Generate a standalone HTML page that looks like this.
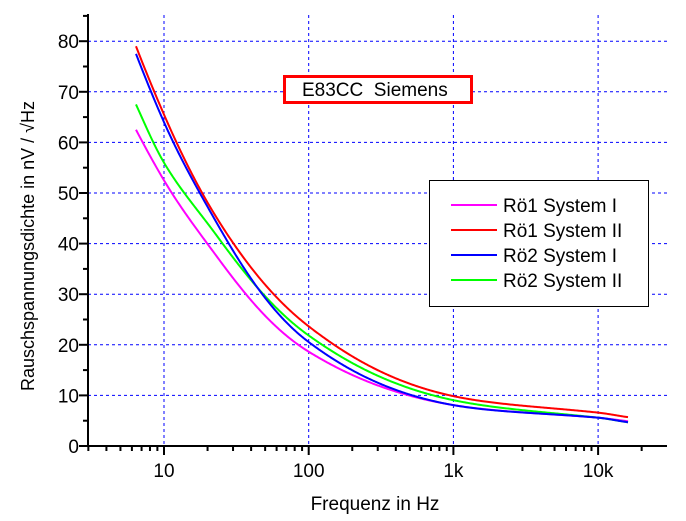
<!DOCTYPE html>
<html><head><meta charset="utf-8"><style>
html,body{margin:0;padding:0;background:#fff;}
svg{display:block;font-family:"Liberation Sans",Arial,sans-serif;}
</style></head><body>
<svg id="s" width="686" height="521" viewBox="0 0 686 521" xmlns="http://www.w3.org/2000/svg">
<g id="grid" stroke="#0000ff" stroke-width="1" stroke-dasharray="3,3" fill="none"></g>
<g id="axes" stroke="#000" stroke-width="2" fill="none"></g>
<g id="curves" fill="none" stroke-width="2"></g>
<g id="labels" font-size="19" fill="#000"></g>
<text x="375" y="510" font-size="19" text-anchor="middle">Frequenz in Hz</text>
<text transform="translate(34,246) rotate(-90)" font-size="18" text-anchor="middle">Rauschspannungsdichte in nV / √Hz</text>
<rect x="284.5" y="76.5" width="187" height="26" fill="#fff" stroke="#ff0000" stroke-width="3"/>
<text x="302" y="96" font-size="19" xml:space="preserve" style="white-space:pre">E83CC  Siemens</text>
<rect x="429.5" y="180.5" width="219" height="126" fill="#fff" stroke="#000" stroke-width="1"/>
<g stroke-width="2">
<line x1="451" y1="205" x2="497" y2="205" stroke="#ff00ff"/>
<line x1="451" y1="230" x2="497" y2="230" stroke="#ff0000"/>
<line x1="451" y1="255" x2="497" y2="255" stroke="#0000ff"/>
<line x1="451" y1="280" x2="497" y2="280" stroke="#00ff00"/>
</g>
<g font-size="19">
<text x="503" y="212">Rö1 System I</text>
<text x="503" y="237">Rö1 System II</text>
<text x="503" y="262">Rö2 System I</text>
<text x="503" y="287">Rö2 System II</text>
</g>
</svg>
<script>
var NS="http://www.w3.org/2000/svg";
function el(p,t,a){var e=document.createElementNS(NS,t);for(var k in a)e.setAttribute(k,a[k]);document.getElementById(p).appendChild(e);return e;}
var x0=164,dec=144.7,X0=88,Y0=446,ys=5.06;
function fx(f){return x0+(Math.log10(f)-1)*dec;}
function vy(v){return Y0-v*ys;}
for(var v=10;v<=80;v+=10){el("grid","line",{x1:X0,y1:vy(v),x2:667,y2:vy(v)});}
[10,100,1000,10000].forEach(function(f){el("grid","line",{x1:fx(f),y1:15,x2:fx(f),y2:Y0});});
el("axes","line",{x1:X0,y1:14,x2:X0,y2:Y0+1});
el("axes","line",{x1:X0-1,y1:Y0,x2:667,y2:Y0});
for(var v=0;v<=85;v+=5){var L=(v%10==0)?9:5;el("axes","line",{x1:X0-L,y1:vy(v),x2:X0,y2:vy(v)});}
for(var d=0;d<=4;d++){for(var m=1;m<10;m++){var f=m*Math.pow(10,d);if(f<3||f>30000)continue;var x=fx(f);if(x<X0||x>667)continue;var L=(m==1)?9:5;el("axes","line",{x1:x,y1:Y0,x2:x,y2:Y0+L});}}
for(var v=0;v<=80;v+=10){var t=el("labels","text",{x:79,y:vy(v)+7,"text-anchor":"end"});t.textContent=v;}
[[10,"10"],[100,"100"],[1000,"1k"],[10000,"10k"]].forEach(function(a){var t=el("labels","text",{x:fx(a[0]),y:477,"text-anchor":"middle"});t.textContent=a[1];});
var xs=[136,164,217,309,450,598,628];
var data=[
["#ff00ff",[62.5,52.5,37.4,18.6,8.2,5.6,4.9]],
["#00ff00",[67.5,56,41.5,21.8,9.2,5.6,4.7]],
["#0000ff",[77.5,64,44,20.5,8.2,5.6,4.7]],
["#ff0000",[79,65.5,45,23.6,10,6.6,5.7]]];
function cr(p0,p1,p2,p3,t,t0,t1,t2,t3){
 // non-uniform Catmull-Rom via tangents
 var m1=(p2-p0)/(t2-t0)*(t2-t1), m2=(p3-p1)/(t3-t1)*(t2-t1);
 var h=t,h2=h*h,h3=h2*h;
 return (2*h3-3*h2+1)*p1+(h3-2*h2+h)*m1+(-2*h3+3*h2)*p2+(h3-h2)*m2;
}
data.forEach(function(s){
 var lv=s[1].map(Math.log), n=xs.length, pts=[];
 for(var i=0;i<n-1;i++){
  var i0=Math.max(0,i-1),i3=Math.min(n-1,i+2);
  for(var x=xs[i];x<xs[i+1];x+=1){
   var t=(x-xs[i])/(xs[i+1]-xs[i]);
   var v=Math.exp(cr(lv[i0],lv[i],lv[i+1],lv[i3],t,xs[i0]-(i0==i?1:0),xs[i],xs[i+1],xs[i3]+(i3==i+1?1:0)));
   pts.push(x+","+vy(v).toFixed(2));
  }
 }
 pts.push(xs[n-1]+","+vy(s[1][n-1]).toFixed(2));
 el("curves","polyline",{points:pts.join(" "),stroke:s[0]});
});
</script>
</body></html>
